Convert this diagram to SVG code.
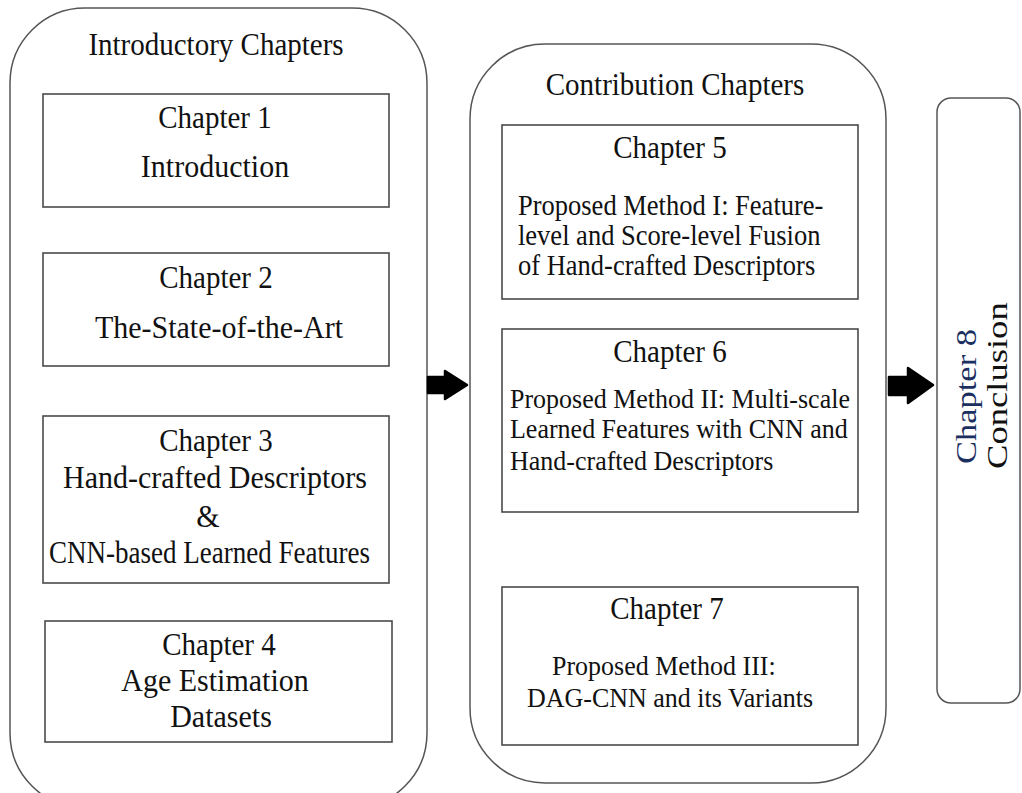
<svg xmlns="http://www.w3.org/2000/svg" width="1022" height="793" viewBox="0 0 1022 793">
  <style>
    .group { fill: #fff; stroke: #555; stroke-width: 1.5; }
    .box { fill: #fff; stroke: #4a4a4a; stroke-width: 1.6; }
    .t { font-family: "Liberation Serif", "Times New Roman", serif; fill: #111; }
    .c { text-anchor: middle; }
    .h { font-size: 29px; }
    .b { font-size: 30px; }
    .p5 { font-size: 26.5px; }
    .p6 { font-size: 26px; }
    .arrow { fill: #000; stroke: #000; stroke-width: 2.5; stroke-linejoin: round; }
  </style>
  <rect width="1022" height="793" fill="#fff"/>

  <!-- Introductory chapters column -->
  <g id="introductory-chapters">
    <rect class="group" x="10" y="8" width="417" height="800" rx="75" ry="75"/>
    <text class="t h c" transform="translate(216,55) scale(1,1.08)">Introductory Chapters</text>
  </g>
  <g id="chapter-1">
    <rect class="box" x="43" y="94" width="346" height="113"/>
    <text class="t h c" transform="translate(215,128) scale(1,1.08)">Chapter 1</text>
    <text class="t b c" transform="translate(215,177) scale(1,1.08)">Introduction</text>
  </g>
  <g id="chapter-2">
    <rect class="box" x="43" y="253" width="346" height="113"/>
    <text class="t h c" transform="translate(216,288) scale(1,1.08)">Chapter 2</text>
    <text class="t b c" transform="translate(219,338) scale(1,1.08)">The-State-of-the-Art</text>
  </g>
  <g id="chapter-3">
    <rect class="box" x="43" y="416" width="346" height="167"/>
    <text class="t h c" transform="translate(216,451) scale(1,1.08)">Chapter 3</text>
    <text class="t b c" transform="translate(215,488) scale(1,1.08)">Hand-crafted Descriptors</text>
    <text class="t b c" transform="translate(208,527) scale(1,1.08)">&amp;</text>
    <text class="t b" transform="translate(49,563) scale(1,1.08)" textLength="321" lengthAdjust="spacingAndGlyphs">CNN-based Learned Features</text>
  </g>
  <g id="chapter-4">
    <rect class="box" x="45" y="621" width="347" height="121"/>
    <text class="t h c" transform="translate(219,655) scale(1,1.08)">Chapter 4</text>
    <text class="t b c" transform="translate(215,691) scale(1,1.08)">Age Estimation</text>
    <text class="t b c" transform="translate(221,727) scale(1,1.08)">Datasets</text>
  </g>

  <!-- Contribution chapters column -->
  <g id="contribution-chapters">
    <rect class="group" x="470" y="44" width="416" height="739" rx="75" ry="75"/>
    <text class="t h c" transform="translate(675,95) scale(1,1.08)">Contribution Chapters</text>
  </g>
  <g id="chapter-5">
    <rect class="box" x="502" y="125" width="356" height="174"/>
    <text class="t h c" transform="translate(670,158) scale(1,1.08)">Chapter 5</text>
    <text class="t p5" transform="translate(518,215) scale(1,1.08)">Proposed Method I: Feature-</text>
    <text class="t p5" transform="translate(518,245) scale(1,1.08)">level and Score-level Fusion</text>
    <text class="t p5" transform="translate(518,275) scale(1,1.08)">of Hand-crafted Descriptors</text>
  </g>
  <g id="chapter-6">
    <rect class="box" x="502" y="329" width="356" height="183"/>
    <text class="t h c" transform="translate(670,362) scale(1,1.08)">Chapter 6</text>
    <text class="t p6" transform="translate(510,408) scale(1,1.08)">Proposed Method II: Multi-scale</text>
    <text class="t p6" transform="translate(510,438) scale(1,1.08)">Learned Features with CNN and</text>
    <text class="t p6" transform="translate(510,470) scale(1,1.08)">Hand-crafted Descriptors</text>
  </g>
  <g id="chapter-7">
    <rect class="box" x="502" y="587" width="356" height="158"/>
    <text class="t h c" transform="translate(667,619) scale(1,1.08)">Chapter 7</text>
    <text class="t p6" transform="translate(552,675) scale(1,1.08)">Proposed Method III:</text>
    <text class="t p6" transform="translate(527,707) scale(1,1.08)">DAG-CNN and its Variants</text>
  </g>

  <!-- Conclusion -->
  <g id="chapter-8">
    <rect class="group" x="937" y="98" width="83" height="605" rx="14" ry="14"/>
    <text class="t" font-size="30" style="fill:#1b2f60" transform="translate(976,464) rotate(-90) scale(1.15,1)">Chapter 8</text>
    <text class="t" font-size="30" transform="translate(1007,469) rotate(-90) scale(1.22,1)">Conclusion</text>
  </g>

  <!-- Flow arrows between columns -->
  <g id="connectors">
    <path class="arrow" d="M428,377 H445 V371 L467,385 L445,399 V393 H428 Z"/>
    <path class="arrow" d="M889,377 H908 V368 L933,385 L908,403 V395 H889 Z"/>
  </g>
</svg>
